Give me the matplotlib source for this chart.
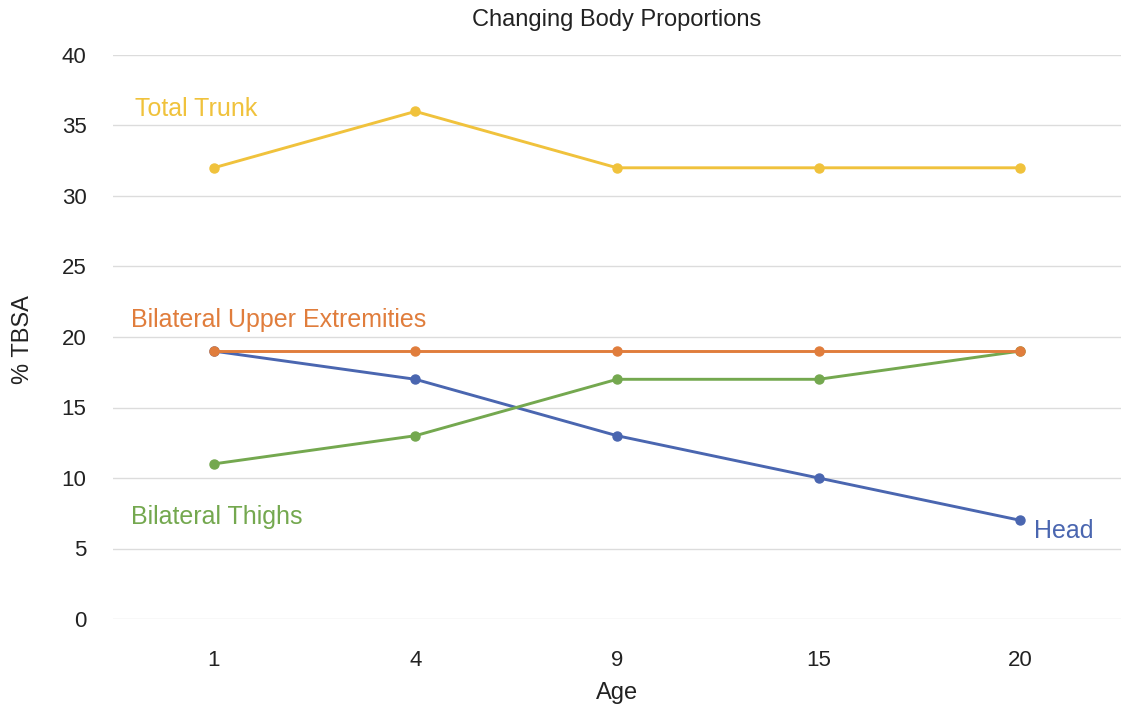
import matplotlib
matplotlib.use("Agg")
import matplotlib.pyplot as plt

plt.rcParams['font.family'] = ['Liberation Sans', 'DejaVu Sans']

ages = ["1", "4", "9", "15", "20"]
head = [19, 17, 13, 10, 7]
thighs = [11, 13, 17, 17, 19]
trunk = [32, 36, 32, 32, 32]
upper = [19, 19, 19, 19, 19]
yticks = [0, 5, 10, 15, 20, 25, 30, 35, 40]

c_head = "#4a66b0"
c_thighs = "#74a84f"
c_trunk = "#f0c23c"
c_upper = "#e07d3c"

fig = plt.figure(figsize=(11.26, 7.08), dpi=100)
ax = fig.add_axes([113/1126, 1-619/708, (1121-113)/1126, (619-55)/708])

x = list(range(len(ages)))
for vals, col in [(head, c_head), (thighs, c_thighs), (trunk, c_trunk), (upper, c_upper)]:
    ax.plot(x, vals, color=col, lw=2.1, marker='o', ms=6.5, zorder=3)

ax.set_xlim(-0.5, len(ages)-0.5)
ax.set_ylim(0, 40)
ax.set_yticks(yticks)
ax.set_xticks(x)
ax.set_xticklabels(ages)
ax.grid(axis='y', color='#dcdcdc', lw=1)
ax.set_axisbelow(True)
for s in ax.spines.values():
    s.set_visible(False)
ax.tick_params(length=0, labelsize=16, colors='#222222')
ax.tick_params(axis='y', pad=19)
ax.tick_params(axis='x', pad=22)

ax.set_xlabel("Age", fontsize=17, color='#222222')
ax.xaxis.set_label_coords(0.5, (619-693)/564)
ax.xaxis.label.set_va('center')
ax.set_ylabel("% TBSA", fontsize=17, color='#222222')
ax.yaxis.set_label_coords((23-113)/1008, (619-340)/564)
ax.yaxis.label.set_va('center')
ax.yaxis.label.set_ha('center')
fig.text(617/1126, 1-20/708, "Changing Body Proportions", ha='center', va='center', fontsize=17, color='#222222')

ax.text(-0.39, 36.2, "Total Trunk", color=c_trunk, fontsize=18, va='center', ha='left')
ax.text(-0.41, 21.2, "Bilateral Upper Extremities", color=c_upper, fontsize=18, va='center', ha='left')
ax.text(-0.41, 7.25, "Bilateral Thighs", color=c_thighs, fontsize=18, va='center', ha='left')
ax.text(4.07, 6.25, "Head", color=c_head, fontsize=18, va='center', ha='left')

fig.savefig("out.png", dpi=100, facecolor='white')
